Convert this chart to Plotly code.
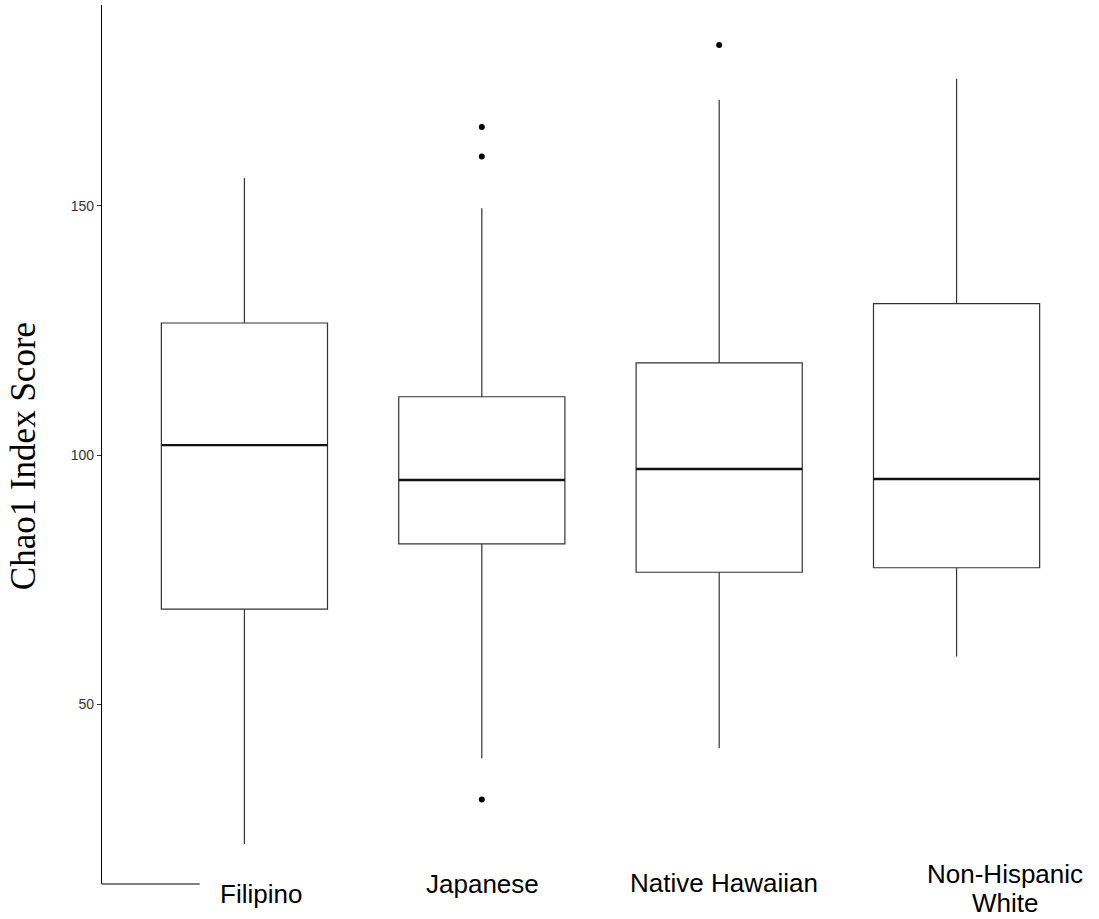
import plotly.graph_objects as go

# Chao1 richness summary per group
groups = ["Filipino", "Japanese", "Native Hawaiian", "Non-Hispanic White"]
lower_whisker = [22.0, 39.2, 41.2, 59.6]
q1 = [69.1, 82.2, 76.5, 77.4]
median = [102.0, 95.0, 97.2, 95.2]
q3 = [126.5, 111.7, 118.5, 130.4]
upper_whisker = [155.6, 149.5, 171.3, 175.5]

# outlying samples (group index, value)
outlier_group = [2, 2, 2, 3]
outlier_value = [165.8, 159.9, 30.9, 182.3]

tick_vals = [50, 100, 150]

# category label lines placed under the panel (paper x, paper y)
label_text = ["Filipino", "Japanese", "Native Hawaiian", "Non-Hispanic", "White"]
label_x = [0.1595, 0.3821, 0.6239, 0.9057, 0.9057]
label_y = [-0.0114, 0.0, 0.0011, 0.0114, -0.0216]

BOX_W = 0.70
xs = list(range(1, len(groups) + 1))

fig = go.Figure()

fig.add_trace(go.Box(
    x=xs,
    q1=q1, median=median, q3=q3,
    lowerfence=lower_whisker, upperfence=upper_whisker,
    width=BOX_W, whiskerwidth=0,
    fillcolor="rgba(255,255,255,0)",
    line=dict(color="#333333", width=1.2),
    boxpoints=False, showlegend=False, hoverinfo="skip",
))

# thicker median bars
for xi, m in zip(xs, median):
    fig.add_trace(go.Scatter(
        x=[xi - BOX_W / 2, xi + BOX_W / 2], y=[m, m],
        mode="lines", line=dict(color="#111111", width=2.4),
        showlegend=False, hoverinfo="skip",
    ))

fig.add_trace(go.Scatter(
    x=outlier_group, y=outlier_value, mode="markers",
    marker=dict(color="black", size=6),
    showlegend=False, hoverinfo="skip",
))

for t, lx, ly in zip(label_text, label_x, label_y):
    fig.add_annotation(
        text=t, x=lx, y=ly, xref="paper", yref="paper",
        xanchor="center", yanchor="middle", showarrow=False,
        font=dict(family="Liberation Sans, Arial", size=26, color="black"),
    )

# y-axis title
fig.add_annotation(
    text="Chao1 Index Score", x=-0.078, y=0.487, xref="paper", yref="paper",
    xanchor="center", yanchor="middle", showarrow=False, textangle=-90,
    font=dict(family="Liberation Serif, Times New Roman", size=35, color="black"),
)

# short baseline stub at the bottom-left corner
fig.add_shape(type="line", xref="paper", yref="paper",
              x0=0, x1=0.098, y0=0, y1=0,
              line=dict(color="black", width=1.2))

fig.update_layout(
    width=1099, height=919,
    margin=dict(l=102, r=0, t=5, b=35),
    paper_bgcolor="white", plot_bgcolor="white",
    xaxis=dict(range=[0.4, 4.6], showgrid=False, zeroline=False,
               showticklabels=False, ticks="", showline=False),
    yaxis=dict(range=[13.95, 190.3], tickvals=tick_vals,
               showgrid=False, zeroline=False,
               showline=True, linecolor="black", linewidth=1.2,
               ticks="outside", ticklen=4, tickcolor="#333333",
               tickfont=dict(family="Liberation Sans, Arial", size=14, color="#333333")),
)

fig.write_html("out.html")
